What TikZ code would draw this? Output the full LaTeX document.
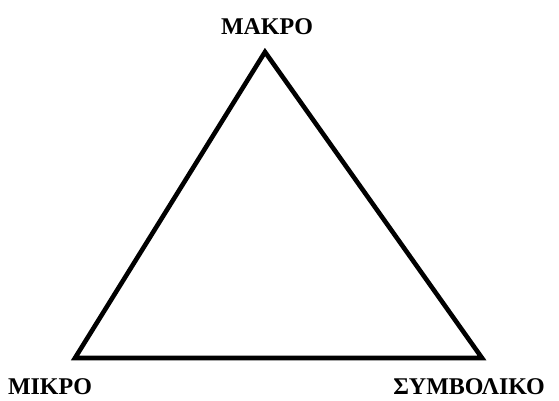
\documentclass[tikz,border=0pt]{standalone}
\usepackage{fontspec}
\setmainfont{Liberation Serif}
\usetikzlibrary{positioning}
\tikzset{
  side/.style={line width=4.6pt,line join=miter,draw=black},
  corner-label/.style={font=\fontsize{24}{28}\selectfont\bfseries,inner sep=0pt},
}
\begin{document}
\begin{tikzpicture}[x=1pt,y=1pt]
  \useasboundingbox (0,0) rectangle (559,401);
  % corners of the triangle
  \coordinate (top) at (265,349);
  \coordinate (left) at (75,43);
  \coordinate (right) at (482,43);
  % labels
  \node[corner-label] (makro) at (267,374) {ΜΑΚΡΟ};
  \node[corner-label] (mikro) at (50,14) {ΜΙΚΡΟ};
  \node[corner-label] (symboliko) at (469,14) {ΣΥΜΒΟΛΙΚΟ};
  \draw[side] (top) -- (left) -- (right) -- cycle;
\end{tikzpicture}
\end{document}
